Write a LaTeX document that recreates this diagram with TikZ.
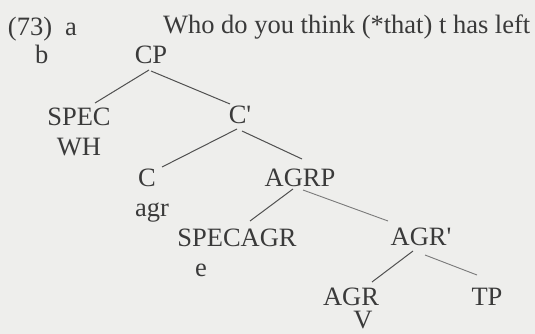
\documentclass[tikz,border=0pt]{standalone}
\usepackage{fontspec}
\setmainfont{Liberation Serif}
\definecolor{bgc}{HTML}{EEEEEC}
\definecolor{ink}{HTML}{3A3A3A}
\definecolor{edgec}{HTML}{505050}
\definecolor{edgel}{HTML}{7A7A7A}
\newcommand{\pr}{\textquotesingle}
\tikzset{
  lbl/.style={inner sep=0pt, outer sep=0pt, text=ink, font=\fontsize{26.5}{30}\selectfont, anchor=base},
  lblw/.style={lbl, anchor=base west},
  br/.style={draw=edgec, line width=1.0pt},
  brl/.style={draw=edgel, line width=0.9pt}
}
\begin{document}
\begin{tikzpicture}[x=1pt,y=1pt]
\useasboundingbox (0,0) rectangle (535,-334);
\fill[bgc] (0,0) rectangle (535,-334);
% header
\node[lblw] (num) at (8,-36) {(73)\hspace{13pt}a};
\node[lblw] (sent) at (163,-34) {Who do you think (*that) t has left};
\node[lblw] (bb) at (35,-64) {b};
% tree nodes
\node[lbl] (CP) at (151,-64) {CP};
\node[lbl] (SPEC) at (79,-125) {SPEC};
\node[lbl] (WH) at (79,-155) {WH};
\node[lbl] (Cbar) at (240,-124) {C\pr};
\node[lbl] (C) at (147,-186) {C};
\node[lbl] (agr) at (152,-216) {agr};
\node[lbl] (AGRP) at (300,-186) {AGRP};
\node[lbl] (SPECAGR) at (237,-246) {SPECAGR};
\node[lbl] (e) at (201,-276) {e};
\node[lbl] (AGRbar) at (421,-245) {AGR\pr};
\node[lbl] (AGR) at (351,-305) {AGR};
\node[lbl] (V) at (363,-328) {V};
\node[lbl] (TP) at (487,-305) {TP};
% branches
\draw[br] ([shift={(-2,-6)}]CP.base) -- ([shift={(16,22)}]SPEC.base);
\draw[br] ([shift={(0,-7)}]CP.base) -- ([shift={(-10,20)}]Cbar.base);
\draw[br] ([shift={(-3,-5)}]Cbar.base) -- ([shift={(15,19)}]C.base);
\draw[br] ([shift={(2,-7)}]Cbar.base) -- ([shift={(2,27)}]AGRP.base);
\draw[br] ([shift={(-7,-3)}]AGRP.base) -- ([shift={(13,25)}]SPECAGR.base);
\draw[brl] ([shift={(3,-4)}]AGRP.base) -- ([shift={(-33,24)}]AGRbar.base);
\draw[br] ([shift={(-8,-6)}]AGRbar.base) -- ([shift={(21,23)}]AGR.base);
\draw[brl] ([shift={(4,-10)}]AGRbar.base) -- ([shift={(-10,30)}]TP.base);
\end{tikzpicture}
\end{document}
